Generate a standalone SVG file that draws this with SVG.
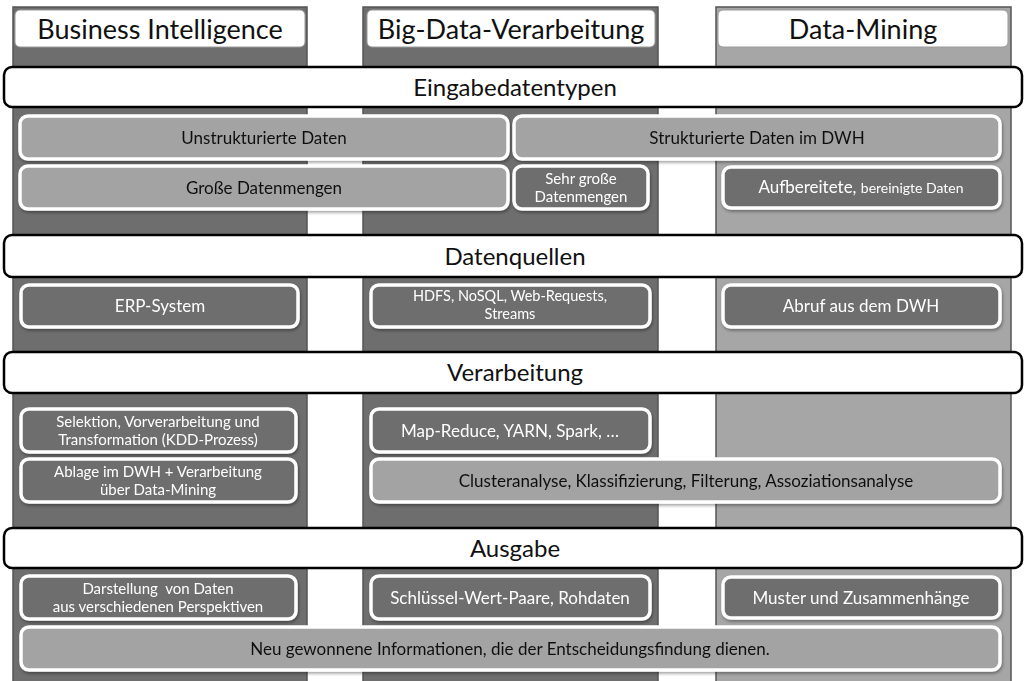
<svg xmlns="http://www.w3.org/2000/svg" width="1025" height="681" viewBox="0 0 1025 681">
<defs>
<style>
.col{stroke:#555;stroke-width:1.5}
.dcol{fill:#6e6e6e}
.lcol{fill:#a6a6a6}
.head{fill:#fff;stroke:#9a9a9a;stroke-width:1}
.headt{font-family:Lato,"Open Sans",sans-serif;font-size:27px;fill:#111;text-anchor:middle}
.band{fill:#fff;stroke:#000;stroke-width:2.5}
.bandt{font-family:Lato,"Open Sans",sans-serif;font-size:24px;fill:#111;text-anchor:middle}
.bx{stroke:#fff;stroke-width:3.5}
.dk{fill:#6e6e6e}
.lt{fill:#a3a3a3}
.tw{font-family:Lato,"Open Sans",sans-serif;font-size:17px;fill:#fff;text-anchor:middle}
.tb{font-family:Lato,"Open Sans",sans-serif;font-size:17px;fill:#111;text-anchor:middle}
.sm{font-size:15px}
.xs{font-size:14.5px}
</style>
<filter id="sh" x="-5%" y="-20%" width="110%" height="150%">
<feDropShadow dx="1" dy="2" stdDeviation="1.5" flood-color="#000" flood-opacity="0.35"/>
</filter>
</defs>
<rect width="1025" height="681" fill="#fff"/>

<g id="col-bi">
<rect class="col dcol" x="13" y="7" width="294" height="680"/>
<rect class="head" x="15" y="10" width="290" height="37" rx="5"/>
<text class="headt" x="160" y="39">Business Intelligence</text>
</g>
<g id="col-bigdata">
<rect class="col dcol" x="363" y="7" width="295" height="680"/>
<rect class="head" x="367" y="10" width="288" height="37" rx="5"/>
<text class="headt" x="511" y="39">Big-Data-Verarbeitung</text>
</g>
<g id="col-dm">
<rect class="col lcol" x="716" y="7" width="295" height="680"/>
<rect class="head" x="718" y="10" width="290" height="37" rx="5"/>
<text class="headt" x="863" y="39">Data-Mining</text>
</g>

<g id="band-eingabe">
<rect class="band" x="4" y="67" width="1018" height="40" rx="8"/>
<text class="bandt" x="515" y="96">Eingabedatentypen</text>
</g>
<g id="n-unstrukt" filter="url(#sh)">
<rect class="bx lt" x="20" y="116" width="488" height="43" rx="8"/>
<text class="tb" x="264" y="144">Unstrukturierte Daten</text>
</g>
<g id="n-strukt" filter="url(#sh)">
<rect class="bx lt" x="514" y="116" width="486" height="43" rx="8"/>
<text class="tb" x="757" y="144">Strukturierte Daten im DWH</text>
</g>
<g id="n-gross" filter="url(#sh)">
<rect class="bx lt" x="20" y="166" width="488" height="43" rx="8"/>
<text class="tb" x="264" y="194">Große Datenmengen</text>
</g>
<g id="n-sehrgross" filter="url(#sh)">
<rect class="bx dk" x="514" y="166" width="134" height="43" rx="8"/>
<text class="tw sm" x="581" y="184">Sehr große</text>
<text class="tw sm" x="581" y="202">Datenmengen</text>
</g>
<g id="n-aufbereitet" filter="url(#sh)">
<rect class="bx dk" x="723" y="167" width="277" height="41" rx="8"/>
<text class="tw" x="861" y="193">Aufbereitete, <tspan style="font-size:14px">bereinigte Daten</tspan></text>
</g>

<g id="band-quellen">
<rect class="band" x="4" y="235" width="1018" height="42" rx="8"/>
<text class="bandt" x="515" y="265">Datenquellen</text>
</g>
<g id="n-erp" filter="url(#sh)">
<rect class="bx dk" x="21" y="285" width="277" height="42" rx="8"/>
<text class="tw" x="160" y="312">ERP-System</text>
</g>
<g id="n-hdfs" filter="url(#sh)">
<rect class="bx dk" x="371" y="285" width="279" height="42" rx="8"/>
<text class="tw xs" x="510" y="301">HDFS, NoSQL, Web-Requests,</text>
<text class="tw xs" x="510" y="319">Streams</text>
</g>
<g id="n-abruf" filter="url(#sh)">
<rect class="bx dk" x="723" y="285" width="277" height="42" rx="8"/>
<text class="tw" x="861" y="312">Abruf aus dem DWH</text>
</g>

<g id="band-verarb">
<rect class="band" x="4" y="352" width="1018" height="41" rx="8"/>
<text class="bandt" x="515" y="381">Verarbeitung</text>
</g>
<g id="n-selektion" filter="url(#sh)">
<rect class="bx dk" x="21" y="409" width="275" height="43" rx="8"/>
<text class="tw sm" x="158" y="427">Selektion, Vorverarbeitung und</text>
<text class="tw sm" x="158" y="445">Transformation (KDD-Prozess)</text>
</g>
<g id="n-ablage" filter="url(#sh)">
<rect class="bx dk" x="21" y="459" width="275" height="43" rx="8"/>
<text class="tw sm" x="158" y="477">Ablage im DWH + Verarbeitung</text>
<text class="tw sm" x="158" y="495">über Data-Mining</text>
</g>
<g id="n-mapreduce" filter="url(#sh)">
<rect class="bx dk" x="371" y="409" width="279" height="43" rx="8"/>
<text class="tw" x="510" y="437">Map-Reduce, YARN, Spark, …</text>
</g>
<g id="n-cluster" filter="url(#sh)">
<rect class="bx lt" x="371" y="459" width="629" height="43" rx="8"/>
<text class="tb" x="686" y="487">Clusteranalyse, Klassifizierung, Filterung, Assoziationsanalyse</text>
</g>

<g id="band-ausgabe">
<rect class="band" x="4" y="528" width="1018" height="40" rx="8"/>
<text class="bandt" x="515" y="557">Ausgabe</text>
</g>
<g id="n-darstellung" filter="url(#sh)">
<rect class="bx dk" x="21" y="576" width="275" height="43" rx="8"/>
<text class="tw sm" x="158" y="594">Darstellung&#160; von Daten</text>
<text class="tw sm" x="158" y="612">aus verschiedenen Perspektiven</text>
</g>
<g id="n-schluessel" filter="url(#sh)">
<rect class="bx dk" x="371" y="576" width="279" height="43" rx="8"/>
<text class="tw" x="510" y="604">Schlüssel-Wert-Paare, Rohdaten</text>
</g>
<g id="n-muster" filter="url(#sh)">
<rect class="bx dk" x="723" y="577" width="277" height="41" rx="8"/>
<text class="tw" x="861" y="604">Muster und Zusammenhänge</text>
</g>
<g id="n-neu" filter="url(#sh)">
<rect class="bx lt" x="21" y="627" width="979" height="43" rx="8"/>
<text class="tb" x="510" y="655">Neu gewonnene Informationen, die der Entscheidungsfindung dienen.</text>
</g>
<g id="connectors"/>
</svg>
